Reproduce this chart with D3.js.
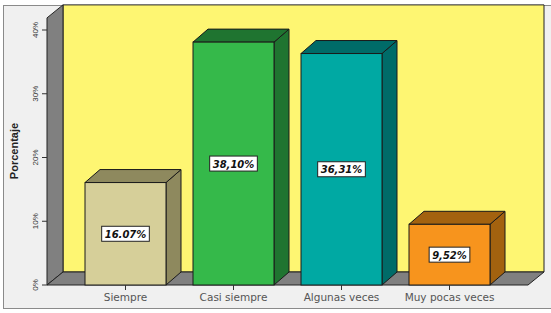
<!DOCTYPE html>
<html><head><meta charset="utf-8">
<script src="https://cdn.jsdelivr.net/npm/d3@7/dist/d3.min.js"></script>
<style>html,body{margin:0;padding:0;background:#fff;}svg{display:block;}</style>
</head><body>
<script>
const categories = ["Siempre", "Casi siempre", "Algunas veces", "Muy pocas veces"];
const values = [16.07, 38.10, 36.31, 9.52];
const valueLabels = ["16.07%", "38,10%", "36,31%", "9,52%"];
const frontColors = ["#d6cf99", "#35b94a", "#00a9a3", "#f7941d"];
const sideColors = ["#8e895e", "#1f7430", "#006b68", "#a3620f"];
const yTicks = [0, 10, 20, 30, 40];
const yTickLabels = ["0%", "10%", "20%", "30%", "40%"];
const yTitle = "Porcentaje";

const W = 551, H = 313;
const svg = d3.select("body").append("svg").attr("width", W).attr("height", H);

// outer panel
svg.append("rect").attr("x", 3.5).attr("y", 5.5).attr("width", 560).attr("height", 303)
  .attr("fill", "#f0f0f0").attr("stroke", "#8a8a8a");

const y = d3.scaleLinear().domain([0, 40]).range([285, 30]);
const x = d3.scaleBand().domain(categories).range([71.5, 503.5]).paddingInner(0.25).paddingOuter(0.125);

const wallDx = 16, wallDy = -13;
const barDx = 15, barDy = -13;
const frontLeft = 47, frontRight = 528;
const wallTop = 41.9;

// back wall
svg.append("polygon")
  .attr("points", [[frontLeft + wallDx, y(wallTop) + wallDy], [frontRight + wallDx, y(wallTop) + wallDy],
                   [frontRight + wallDx, y(0) + wallDy], [frontLeft + wallDx, y(0) + wallDy]].join(" "))
  .attr("fill", "#fef672").attr("stroke", "#222").attr("stroke-width", 1);
// left wall
svg.append("polygon")
  .attr("points", [[frontLeft, y(wallTop)], [frontLeft + wallDx, y(wallTop) + wallDy],
                   [frontLeft + wallDx, y(0) + wallDy], [frontLeft, y(0)]].join(" "))
  .attr("fill", "#808080").attr("stroke", "#222").attr("stroke-width", 1);
// floor
svg.append("polygon")
  .attr("points", [[frontLeft, y(0)], [frontLeft + wallDx, y(0) + wallDy],
                   [frontRight + wallDx, y(0) + wallDy], [frontRight, y(0)]].join(" "))
  .attr("fill", "#808080").attr("stroke", "#222").attr("stroke-width", 1);

// y axis ticks
const yAxis = svg.append("g");
yTicks.forEach((t, i) => {
  yAxis.append("line").attr("x1", frontLeft - 5).attr("x2", frontLeft).attr("y1", y(t)).attr("y2", y(t))
    .attr("stroke", "#333");
  yAxis.append("text").attr("transform", `translate(38,${y(t)}) rotate(-90)`)
    .attr("text-anchor", "middle").attr("font-family", "Liberation Sans, Arial, sans-serif")
    .attr("font-size", 8).attr("fill", "#333").text(yTickLabels[i]);
});
svg.append("text").attr("transform", `translate(18,151) rotate(-90)`)
  .attr("text-anchor", "middle").attr("font-family", "Liberation Sans, Arial, sans-serif")
  .attr("font-size", 11).attr("font-weight", "bold").attr("fill", "#222").text(yTitle);

// bars
const bars = svg.append("g");
categories.forEach((c, i) => {
  const x0 = x(c), x1 = x0 + x.bandwidth(), yt = y(values[i]), yb = y(0);
  const g = bars.append("g");
  g.append("polygon").attr("points", [[x1, yt], [x1 + barDx, yt + barDy], [x1 + barDx, yb + barDy], [x1, yb]].join(" "))
    .attr("fill", sideColors[i]).attr("stroke", "#1a1a1a").attr("stroke-width", 1);
  g.append("polygon").attr("points", [[x0, yt], [x0 + barDx, yt + barDy], [x1 + barDx, yt + barDy], [x1, yt]].join(" "))
    .attr("fill", sideColors[i]).attr("stroke", "#1a1a1a").attr("stroke-width", 1);
  g.append("rect").attr("x", x0).attr("y", yt).attr("width", x.bandwidth()).attr("height", yb - yt)
    .attr("fill", frontColors[i]).attr("stroke", "#1a1a1a").attr("stroke-width", 1);
  svg.append("line").attr("x1", x0 + x.bandwidth() / 2).attr("x2", x0 + x.bandwidth() / 2)
    .attr("y1", yb).attr("y2", yb + 5).attr("stroke", "#333");
  svg.append("text").attr("x", x0 + x.bandwidth() / 2).attr("y", 301)
    .attr("text-anchor", "middle").attr("font-family", "DejaVu Sans, Verdana, sans-serif")
    .attr("font-size", 10.5).attr("fill", "#555").text(c);
  const cy = (yt + yb) / 2, cx = x0 + x.bandwidth() / 2;
  const t = g.append("text").attr("x", cx).attr("y", cy + 4)
    .attr("text-anchor", "middle").attr("font-family", "DejaVu Sans, Verdana, sans-serif")
    .attr("font-size", 10).attr("font-weight", "bold").attr("font-style", "italic")
    .attr("fill", "#111").text(valueLabels[i]);
  const bb = t.node().getBBox();
  g.insert("rect", "text").attr("x", bb.x - 3).attr("y", cy - 7.5).attr("width", bb.width + 6).attr("height", 15)
    .attr("fill", "#fff").attr("stroke", "#222").attr("stroke-width", 1);
});
</script>
</body></html>
